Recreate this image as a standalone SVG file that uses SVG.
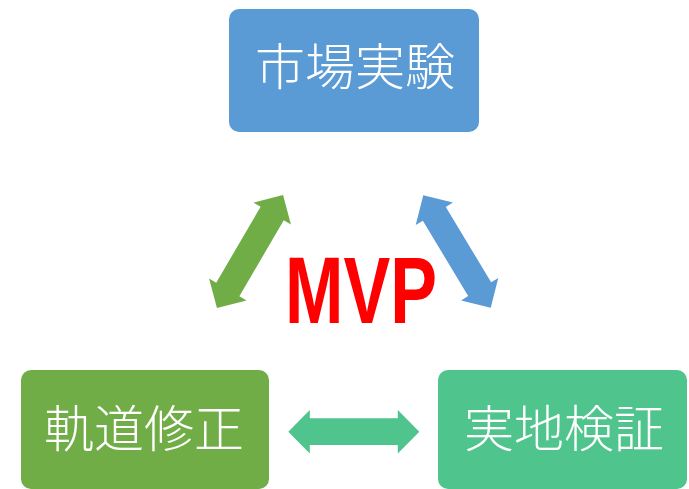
<svg xmlns="http://www.w3.org/2000/svg" width="689" height="489" viewBox="0 0 689 489">
<defs>
<style>
.lbl{font-family:"Noto Sans CJK JP","Noto Sans CJK SC",sans-serif;font-weight:300;font-size:50px;fill:#ffffff;text-anchor:middle}
.mvp{font-family:"Liberation Sans",Arial,sans-serif;font-weight:bold;font-size:94px;fill:#ff0000}
</style>
<polygon id="dblarrow" points="-65.5,0 -44,-21.7 -44,-13.4 44,-13.4 44,-21.7 65.5,0 44,21.7 44,13.4 -44,13.4 -44,21.7"/>
</defs>
<rect width="689" height="489" fill="#ffffff"/>
<g id="node-market">
<rect x="229" y="9" width="250" height="123" rx="10" fill="#5B9BD5"/>
<text class="lbl" x="355" y="85">市場実験</text>
</g>
<g id="node-course">
<rect x="21" y="370" width="248" height="119" rx="10" fill="#70AD47"/>
<text class="lbl" x="144" y="447">軌道修正</text>
</g>
<g id="node-field">
<rect x="438" y="370" width="249" height="119" rx="10" fill="#4FC48C"/>
<text class="lbl" x="564" y="447">実地検証</text>
</g>
<g id="connectors">
<use href="#dblarrow" fill="#70AD47" transform="translate(250,251.5) rotate(-59.7)"/>
<use href="#dblarrow" fill="#5B9BD5" transform="translate(457,251.5) rotate(59)"/>
<use href="#dblarrow" fill="#4FC48C" transform="translate(353.8,431.7)"/>
</g>
<g id="label-mvp">
<text class="mvp" x="285" y="323" textLength="152" lengthAdjust="spacingAndGlyphs">MVP</text>
</g>
</svg>
